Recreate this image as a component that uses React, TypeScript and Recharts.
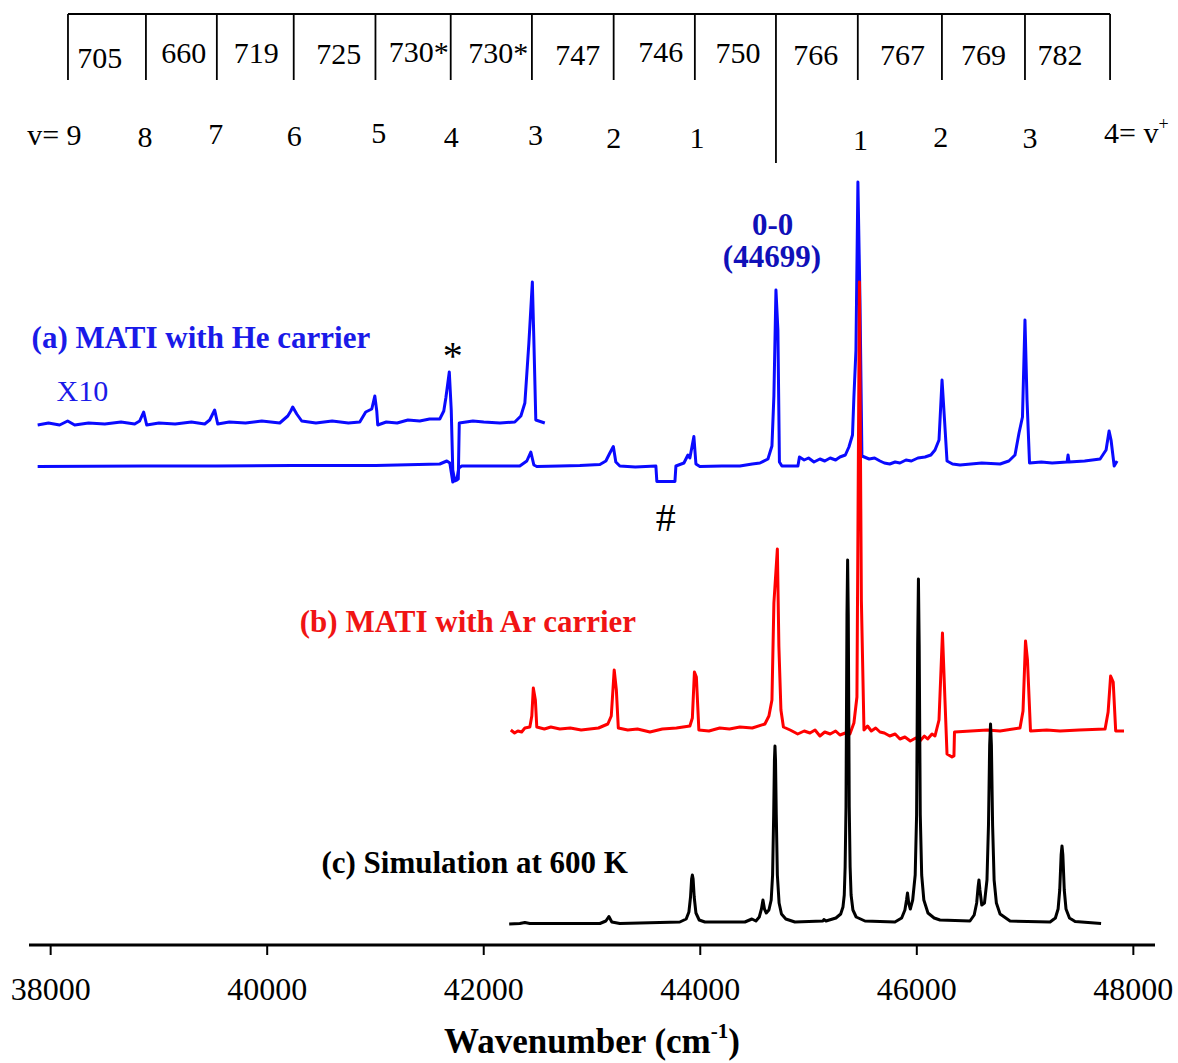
import React from 'react';
import { LineChart, Line, XAxis, YAxis, ReferenceLine, ReferenceDot } from 'recharts';

const FONT = '"Liberation Serif", "Times New Roman", Times, serif';

// x = wavenumber (cm-1), y = signal (arbitrary units, stacked traces; 0 = axis)
const heX10: [number, number][] = [
  [37880, 520], [37980, 522], [38083, 520], [38157, 524], [38222, 520], [38350, 522], [38500, 521], [38650, 523], [38776, 521],
  [38822, 524], [38859, 533], [38887, 520], [39000, 522], [39150, 521], [39300, 523], [39423, 521], [39469, 525], [39515, 535],
  [39543, 521], [39650, 523], [39800, 522], [39950, 524], [40116, 522], [40190, 529], [40218, 534], [40236, 538], [40273, 531],
  [40319, 524], [40450, 522], [40600, 524], [40750, 522], [40855, 523], [40910, 533], [40966, 536], [40994, 549], [41012, 534],
  [41021, 520], [41100, 523], [41200, 522], [41300, 525], [41409, 524], [41500, 526], [41594, 526], [41631, 534], [41650, 547],
  [41682, 573], [41700, 535], [41714, 475], [41733, 464], [41765, 466], [41774, 522], [41900, 524], [42000, 523], [42150, 522],
  [42287, 523], [42343, 529], [42380, 542], [42417, 602], [42449, 663], [42463, 605], [42481, 525], [42564, 522],
];

const heMain: [number, number][] = [
  [37880, 478.5], [38869, 479], [39525, 479], [40236, 479.5], [41003, 479.5], [41594, 481], [41659, 484], [41687, 482],
  [41714, 463], [41733, 467], [41751, 465], [41770, 477], [41797, 479], [42333, 479], [42398, 484], [42435, 493], [42463, 480],
  [42490, 478.5], [42700, 479], [42888, 479.5], [43073, 480.5], [43128, 484], [43165, 492], [43197, 498.5], [43220, 483],
  [43257, 479], [43400, 478], [43590, 479], [43599, 463.5], [43766, 463.5], [43775, 479], [43849, 482], [43886, 490],
  [43904, 487], [43941, 508.5], [43960, 481], [43996, 478.5], [44200, 479], [44366, 479], [44480, 481], [44551, 482],
  [44625, 486], [44662, 499], [44680, 549], [44699, 655], [44717, 615], [44731, 483], [44754, 479], [44902, 479],
  [44916, 488], [44960, 485], [45000, 487], [45050, 483], [45105, 486], [45150, 484], [45200, 487], [45250, 485],
  [45290, 488], [45340, 490], [45373, 498], [45406, 510], [45419, 548], [45438, 595], [45456, 763], [45475, 645],
  [45493, 489], [45560, 486], [45610, 487], [45660, 484], [45700, 482], [45750, 481], [45800, 483], [45844, 482],
  [45900, 485], [45950, 484], [46010, 487], [46076, 488], [46130, 490], [46168, 495], [46205, 505], [46233, 565],
  [46256, 525], [46279, 484], [46330, 481], [46399, 480], [46500, 481], [46600, 482], [46769, 481], [46850, 484],
  [46907, 490], [46944, 512], [46976, 528], [46999, 625], [47018, 545], [47041, 482], [47150, 483], [47250, 482],
  [47388, 483], [47397, 490], [47406, 483], [47550, 484], [47693, 486], [47748, 495], [47776, 514], [47794, 505],
  [47823, 479], [47850, 484],
];

const arTrace: [number, number][] = [
  [42250, 215], [42285, 212], [42315, 214], [42350, 213], [42380, 217], [42426, 218], [42444, 229], [42458, 257], [42477, 245],
  [42490, 218], [42560, 216], [42620, 218], [42703, 216], [42800, 217], [42900, 215], [42980, 216], [43060, 217], [43146, 221],
  [43178, 229], [43205, 275], [43225, 255], [43243, 217], [43330, 215], [43420, 216], [43535, 213], [43650, 216], [43780, 217],
  [43904, 219], [43927, 227], [43946, 273], [43964, 268], [43987, 215], [44080, 214], [44180, 217], [44270, 216], [44366, 218],
  [44480, 217], [44597, 221], [44634, 229], [44662, 245], [44680, 342], [44712, 396], [44726, 299], [44745, 235], [44768, 218],
  [44830, 215], [44900, 211], [44960, 214], [45013, 212], [45060, 215], [45105, 209], [45150, 213], [45200, 211], [45250, 214],
  [45290, 210], [45340, 212], [45382, 211], [45419, 222], [45447, 248], [45470, 663], [45488, 345], [45512, 215], [45545, 219],
  [45580, 214], [45620, 217], [45660, 213], [45700, 212], [45750, 209], [45800, 211], [45844, 206], [45890, 208], [45940, 204],
  [45990, 207], [46029, 204], [46070, 209], [46100, 206], [46140, 211], [46168, 209], [46205, 225], [46237, 312], [46260, 245],
  [46279, 191], [46325, 188], [46343, 189], [46348, 213], [46500, 214], [46650, 215], [46769, 214], [46953, 217], [46981, 234],
  [47004, 304], [47022, 285], [47050, 214], [47200, 215], [47323, 214], [47500, 215], [47739, 216], [47767, 233], [47790, 269],
  [47814, 263], [47837, 214], [47914, 214],
];

const simTrace: [number, number][] = [
  [42235, 21], [42333, 21.5], [42380, 22.5], [42426, 21.5], [43073, 21.5], [43128, 24], [43156, 28.5], [43183, 23],
  [43257, 21.5], [43811, 23], [43870, 26], [43895, 33], [43910, 48], [43920, 66], [43927, 70], [43934, 66], [43944, 48],
  [43960, 32], [43990, 25], [44043, 23], [44412, 23], [44477, 26], [44514, 24], [44545, 28], [44565, 36], [44579, 45],
  [44593, 36], [44610, 32], [44634, 35], [44655, 45], [44668, 70], [44678, 130], [44685, 185], [44690, 199], [44695, 185],
  [44702, 130], [44712, 70], [44728, 42], [44750, 31], [44790, 26], [44874, 23], [45133, 24], [45142, 25.5], [45161, 24],
  [45253, 27], [45297, 31], [45318, 38], [45330, 50], [45338, 78], [45346, 138], [45355, 330], [45361, 385], [45367, 330],
  [45376, 138], [45384, 78], [45393, 50], [45410, 35], [45440, 28], [45521, 24], [45798, 23], [45860, 27], [45890, 35],
  [45905, 45], [45914, 52], [45925, 42], [45940, 36], [45962, 45], [45985, 70], [45998, 130], [46008, 300], [46015, 366],
  [46022, 300], [46032, 130], [46045, 70], [46065, 45], [46103, 32], [46160, 27], [46214, 25], [46491, 24], [46530, 30],
  [46553, 42], [46566, 58], [46574, 65], [46583, 55], [46600, 40], [46625, 42], [46648, 65], [46662, 120], [46673, 200],
  [46681, 221], [46689, 200], [46700, 120], [46714, 65], [46735, 42], [46769, 31], [46861, 24], [47231, 23], [47280, 27],
  [47305, 36], [47320, 55], [47333, 90], [47341, 99], [47349, 90], [47362, 55], [47378, 36], [47410, 27], [47462, 23.5],
  [47702, 21.5],
];

// assignment table (top)
const cellEdges = [38160, 38880, 39535, 40245, 41000, 41695, 42445, 43200, 43950, 44699, 45455, 46232, 46999, 47785];
const cellLabels = ['705', '660', '719', '725', '730*', '730*', '747', '746', '750', '766', '767', '769', '782'];
const cellLabelX = [38453, 39229, 39899, 40661, 41400, 42135, 42869, 43636, 44348, 45066, 45868, 46617, 47323];
const cellLabelY = [877, 882, 882, 881, 883, 882, 880, 883, 882, 880, 880, 880, 880];
const vLabels = ['8', '7', '6', '5', '4', '3', '2', '1', '1', '2', '3'];
const vLabelX = [38872, 39525, 40251, 41031, 41701, 42479, 43202, 43969, 45479, 46222, 47046];
const vLabelY = [798, 801, 799, 802, 798, 800, 797, 797, 795, 798, 797];
const xTicks = [38000, 40000, 42000, 44000, 46000, 48000];

const TABLE_TOP = 931;
const TABLE_BOTTOM = 865;
const ORIGIN_LINE_BOTTOM = 782;
const ORIGIN = 44699;

const toPts = (arr: [number, number][]) => arr.map(([x, y]) => ({ x, y }));

type TOpt = { size: number; weight?: string; fill?: string; anchor?: 'start' | 'middle' | 'end' };
const makeText = (content: React.ReactNode, opt: TOpt) => (props: any) => {
  const vb = props.viewBox || {};
  const x = (vb.x ?? 0) + (vb.width ?? 0) / 2;
  const y = (vb.y ?? 0) + (vb.height ?? 0) / 2;
  return (
    <text
      x={x}
      y={y}
      fontFamily={FONT}
      fontSize={opt.size}
      fontWeight={opt.weight || 'normal'}
      fill={opt.fill || '#000'}
      textAnchor={opt.anchor || 'middle'}
    >
      {content}
    </text>
  );
};

const notes: { x: number; y: number; content: React.ReactNode; opt: TOpt }[] = [
  { x: 44668, y: 710, content: '0-0', opt: { size: 31, weight: 'bold', fill: '#1010b8' } },
  { x: 44662, y: 678, content: '(44699)', opt: { size: 31, weight: 'bold', fill: '#1010b8' } },
  { x: 37824, y: 597, content: '(a) MATI with He carrier', opt: { size: 31, weight: 'bold', fill: '#1a1ae8', anchor: 'start' } },
  { x: 38055, y: 544, content: 'X10', opt: { size: 30, fill: '#1a1ae8', anchor: 'start' } },
  { x: 41714, y: 576, content: '*', opt: { size: 40 } },
  { x: 43682, y: 414, content: '#', opt: { size: 40 } },
  { x: 40301, y: 313, content: '(b) MATI with Ar carrier', opt: { size: 31, weight: 'bold', fill: '#f01414', anchor: 'start' } },
  { x: 40501, y: 72, content: '(c) Simulation at 600 K', opt: { size: 31, weight: 'bold', anchor: 'start' } },
  { x: 38286, y: 800, content: 'v= 9', opt: { size: 30, anchor: 'end' } },
  {
    x: 47729,
    y: 802,
    content: (
      <>
        <tspan>4= v</tspan>
        <tspan dy={-13} fontSize={18}>+</tspan>
      </>
    ),
    opt: { size: 30, anchor: 'start' },
  },
];

const AxisTitle = (props: any) => {
  const vb = props.viewBox || {};
  const cx = (vb.x ?? 0) + (vb.width ?? 0) / 2;
  const y = (vb.y ?? 0) + 108;
  return (
    <text x={cx} y={y} fontFamily={FONT} fontSize={35} fontWeight="bold" fill="#000" textAnchor="middle">
      <tspan>Wavenumber (cm</tspan>
      <tspan dy={-15} fontSize={21}>-1</tspan>
      <tspan dy={15}>)</tspan>
    </text>
  );
};

export default function App() {
  return (
    <div style={{ position: 'absolute', left: 0, top: 0, background: '#fff' }}>
      <LineChart width={1178} height={1063} margin={{ top: 0, right: 23, bottom: 0, left: 29 }}>
        <XAxis
          type="number"
          dataKey="x"
          domain={[37800, 48200]}
          allowDataOverflow
          ticks={xTicks}
          height={118}
          tickSize={10}
          tickMargin={22}
          axisLine={{ stroke: '#000', strokeWidth: 3 }}
          tickLine={{ stroke: '#000', strokeWidth: 2 }}
          tick={{ fill: '#000', fontSize: 32, fontFamily: FONT }}
          label={{ content: AxisTitle } as any}
        />
        <YAxis type="number" domain={[0, 945]} hide allowDataOverflow />

        {/* assignment table */}
        <ReferenceLine
          segment={[{ x: cellEdges[0], y: TABLE_TOP }, { x: cellEdges[cellEdges.length - 1], y: TABLE_TOP }]}
          stroke="#000"
          strokeWidth={1.8}
          ifOverflow="visible"
        />
        {cellEdges.map((e, i) => (
          <ReferenceLine
            key={'edge' + i}
            segment={[{ x: e, y: TABLE_TOP }, { x: e, y: e === ORIGIN ? ORIGIN_LINE_BOTTOM : TABLE_BOTTOM }]}
            stroke="#000"
            strokeWidth={1.8}
            ifOverflow="visible"
          />
        ))}
        {cellLabels.map((t, i) => (
          <ReferenceDot
            key={'cl' + i}
            x={cellLabelX[i]}
            y={cellLabelY[i]}
            r={0}
            fill="none"
            stroke="none"
            ifOverflow="visible"
            label={makeText(t, { size: 30 })}
          />
        ))}
        {vLabels.map((t, i) => (
          <ReferenceDot
            key={'vl' + i}
            x={vLabelX[i]}
            y={vLabelY[i]}
            r={0}
            fill="none"
            stroke="none"
            ifOverflow="visible"
            label={makeText(t, { size: 30 })}
          />
        ))}

        <Line data={toPts(heX10)} dataKey="y" type="linear" stroke="#0a0aff" strokeWidth={3} strokeLinejoin="round" dot={false} isAnimationActive={false} />
        <Line data={toPts(heMain)} dataKey="y" type="linear" stroke="#0a0aff" strokeWidth={3} strokeLinejoin="round" dot={false} isAnimationActive={false} />
        <Line data={toPts(arTrace)} dataKey="y" type="linear" stroke="#ff0000" strokeWidth={3} strokeLinejoin="round" dot={false} isAnimationActive={false} />
        <Line data={toPts(simTrace)} dataKey="y" type="linear" stroke="#000000" strokeWidth={3} strokeLinejoin="round" dot={false} isAnimationActive={false} />

        {notes.map((n, i) => (
          <ReferenceDot
            key={'note' + i}
            x={n.x}
            y={n.y}
            r={0}
            fill="none"
            stroke="none"
            ifOverflow="visible"
            label={makeText(n.content, n.opt)}
          />
        ))}
      </LineChart>
    </div>
  );
}
